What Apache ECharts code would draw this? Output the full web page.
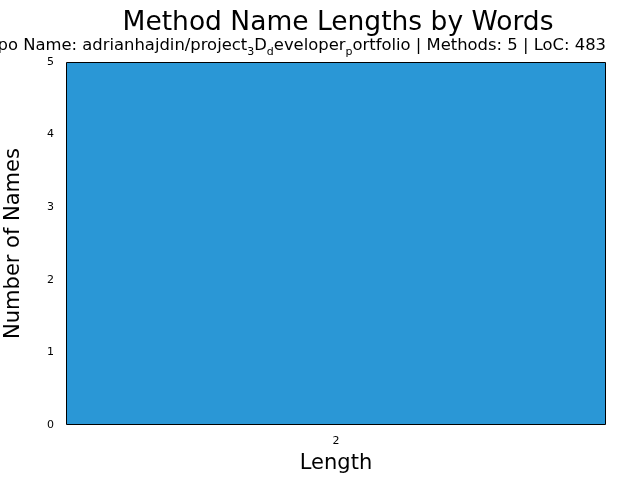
<!DOCTYPE html>
<html>
<head>
<meta charset="utf-8">
<script src="https://cdn.jsdelivr.net/npm/echarts@6/dist/echarts.min.js"></script>
<style>html,body{margin:0;padding:0;background:#fff}#c{width:640px;height:480px}</style>
</head>
<body>
<div id="c"></div>
<script>
const categories = ["2"];
const counts = [5];
const yTicks = [0, 1, 2, 3, 4, 5];
const titleText = "Method Name Lengths by Words";
const subtitleParts = [
  ["n", "Repo Name: adrianhajdin/project"], ["s", "3"], ["n", "D"], ["s", "d"],
  ["n", "eveloper"], ["s", "p"], ["n", "ortfolio | Methods: 5 | LoC: 483"]
];

const font = "DejaVu Sans";
const chart = echarts.init(document.getElementById('c'), null, {renderer: 'canvas'});
const subText = subtitleParts.map(p => '{' + p[0] + '|' + p[1] + '}').join('');
chart.setOption({
  animation: false,
  backgroundColor: '#fff',
  title: {
    text: titleText, left: 333, top: 5, textAlign: 'center',
    textStyle: {fontFamily: font, fontSize: 26.5, fontWeight: 'normal', color: '#000'}
  },
  graphic: [{
    type: 'text', right: 34, top: 38,
    style: {
      text: subText, fill: '#000',
      rich: {
        n: {fontFamily: font, fontSize: 16.4, lineHeight: 24, fill: '#000'},
        s: {fontFamily: font, fontSize: 11, lineHeight: 11, verticalAlign: 'bottom', fill: '#000'}
      }
    }
  }],
  grid: {left: 66, right: 34, top: 62, bottom: 55, outerBoundsMode: 'none'},
  xAxis: {
    type: 'category', data: categories,
    name: 'Length', nameLocation: 'middle', nameGap: 28,
    nameTextStyle: {fontFamily: font, fontSize: 21, color: '#000'},
    axisLine: {show: false},
    axisTick: {show: false},
    axisLabel: {fontFamily: font, fontSize: 11, color: '#000', margin: 11}
  },
  yAxis: {
    type: 'value', min: 0, max: 5, interval: 1,
    name: 'Number of Names', nameLocation: 'middle', nameGap: 42,
    nameTextStyle: {fontFamily: font, fontSize: 21, color: '#000'},
    axisLine: {show: false},
    axisTick: {show: false},
    splitLine: {show: false},
    axisLabel: {fontFamily: font, fontSize: 11, color: '#000', margin: 12,
      formatter: v => yTicks.includes(v) ? String(v) : ''}
  },
  series: [{
    type: 'bar', data: counts, barWidth: '100%',
    itemStyle: {color: '#2a97d6', borderColor: '#000', borderWidth: 1}
  }]
});
</script>
</body>
</html>
